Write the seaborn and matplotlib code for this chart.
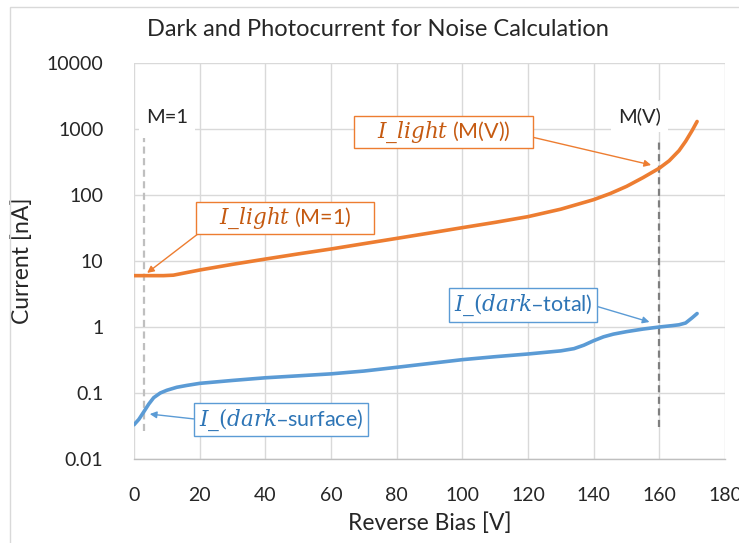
import numpy as np
import pandas as pd
import matplotlib
matplotlib.use("Agg")
import matplotlib.pyplot as plt
from matplotlib.patches import Rectangle
from matplotlib.path import Path
import seaborn as sns

# Photocurrent (I_light) vs reverse bias
bias_light = [0, 3, 6, 9, 12, 20, 30, 40, 50, 60, 70, 80, 90, 100, 110, 120,
              130, 140, 145, 150, 155, 160, 163, 166, 168, 170, 171.5]
i_light = [6.0, 6.0, 6.0, 6.0, 6.1, 7.3, 8.9, 10.7, 12.8, 15.2, 18.3, 22.0,
           26.5, 32.0, 38.5, 47.0, 61.0, 85.0, 105.0, 135.0, 183.0, 255.0,
           330.0, 470.0, 650.0, 950.0, 1300.0]

# Dark current vs reverse bias
bias_dark = [0, 1.5, 3, 4.5, 6, 8, 10, 13, 16, 20, 30, 40, 50, 60, 70, 80, 90,
             100, 110, 120, 130, 134, 137, 140, 143, 146, 150, 155, 160, 164,
             166, 168, 170, 171.5]
i_dark = [0.033, 0.040, 0.052, 0.068, 0.085, 0.100, 0.110, 0.122, 0.130, 0.140,
          0.155, 0.170, 0.182, 0.195, 0.215, 0.245, 0.280, 0.320, 0.355, 0.390,
          0.435, 0.470, 0.530, 0.620, 0.710, 0.780, 0.850, 0.930, 1.000, 1.050,
          1.080, 1.150, 1.380, 1.600]

x_ticks = [0, 20, 40, 60, 80, 100, 120, 140, 160, 180]
y_ticks = [0.01, 0.1, 1, 10, 100, 1000, 10000]
y_ticklabels = ["0.01", "0.1", "1", "10", "100", "1000", "10000"]

# reference bias points: unity gain and operating gain
m1_bias = 3
mv_bias = 160

ORANGE = "#ED7D31"
ORANGE_TXT = "#C55A11"
BLUE = "#5B9BD5"
BLUE_TXT = "#2E75B6"
GRID = "#D9D9D9"
TXT = "#262626"

sns.set_theme(style="white")
plt.rcParams["font.family"] = ["Lato", "DejaVu Sans"]
plt.rcParams["mathtext.fontset"] = "dejavuserif"

df_light = pd.DataFrame({"bias": bias_light, "current": i_light})
df_dark = pd.DataFrame({"bias": bias_dark, "current": i_dark})

fig = plt.figure(figsize=(7.39, 5.43), dpi=100)
ax = fig.add_axes([134 / 739, 1 - 459 / 543, (725 - 134) / 739, (459 - 63) / 543])

# chart frame
fig.patches.append(Rectangle((10 / 739, -0.1), 1.2, 1 - 7 / 543 + 0.1,
                             transform=fig.transFigure, fill=False,
                             edgecolor="#D9D9D9", linewidth=1.0))

sns.lineplot(data=df_light, x="bias", y="current", ax=ax, color=ORANGE,
             linewidth=2.6, zorder=4)
sns.lineplot(data=df_dark, x="bias", y="current", ax=ax, color=BLUE,
             linewidth=2.6, zorder=4)

ax.set_yscale("log")
ax.set_xlim(0, 180)
ax.set_ylim(0.01, 10000)
ax.set_xticks(x_ticks)
ax.set_xticklabels([str(t) for t in x_ticks])
ax.set_yticks(y_ticks)
ax.set_yticklabels(y_ticklabels)
ax.minorticks_off()
ax.tick_params(axis="both", length=0, labelsize=14, colors=TXT)
ax.tick_params(axis="y", pad=22)
ax.tick_params(axis="x", pad=20)
ax.grid(True, color=GRID, linewidth=1.0)
ax.set_axisbelow(True)
for side in ["left", "right", "top"]:
    ax.spines[side].set_visible(False)
ax.spines["bottom"].set_color("#BFBFBF")
ax.spines["bottom"].set_linewidth(1.0)

ax.set_xlabel("Reverse Bias [V]", fontsize=16.5, color=TXT, labelpad=6)
ax.set_ylabel("Current [nA]", fontsize=16.5, color=TXT, labelpad=10)
fig.text(378 / 739, 1 - 30 / 543, "Dark and Photocurrent for Noise Calculation",
         ha="center", va="center", fontsize=17, color=TXT)

# gain reference markers
ax.plot([m1_bias, m1_bias], [0.027, 730], color="#BFBFBF", linewidth=1.6,
        linestyle=(0, (3.2, 2.0)), zorder=3)
ax.plot([mv_bias, mv_bias], [0.031, 680], color="#7F7F7F", linewidth=1.6,
        linestyle=(0, (3.2, 2.0)), zorder=3)
ax.text(10, 1500, "M=1", ha="center", va="center", fontsize=14.5, color=TXT,
        zorder=5, bbox=dict(boxstyle="square,pad=0.35", fc="white", ec="none"))
ax.text(154, 1550, "M(V)", ha="center", va="center", fontsize=14.5, color=TXT,
        zorder=5, bbox=dict(boxstyle="square,pad=0.35", fc="white", ec="none"))


def padded_box(pad_x, pad_y):
    """Rectangular box style with separate horizontal / vertical padding."""
    def box(x0, y0, width, height, mutation_size):
        px = pad_x * mutation_size
        py = pad_y * mutation_size
        xa, ya = x0 - px, y0 - py
        xb, yb = x0 + width + px, y0 + height + py
        return Path([(xa, ya), (xb, ya), (xb, yb), (xa, yb), (xa, ya)],
                    closed=True)
    return box


# callouts
def callout(text, xy, xytext, color, edge, relpos, pad_x):
    ax.annotate(text, xy=xy, xytext=xytext, textcoords="data", ha="center",
                va="center", fontsize=15.5, color=color, zorder=6,
                bbox=dict(boxstyle=padded_box(pad_x, 0.16), fc="white",
                          ec=edge, lw=1.0),
                arrowprops=dict(arrowstyle="-|>", color=edge, lw=1.0,
                                mutation_scale=10, relpos=relpos,
                                shrinkA=0, shrinkB=0))

callout(r"$I\_light$ (M(V))", (157.5, 285), (94.3, 900), ORANGE_TXT, ORANGE, (1, 0.5), 1.05)
callout(r"$I\_light$ (M=1)", (4.0, 6.6), (46, 45), ORANGE_TXT, ORANGE, (0, 0.5), 1.05)
callout(r"$I\_(dark$–total)", (157.0, 1.19), (118.5, 2.15), BLUE_TXT, BLUE, (1, 0.5), 0.22)
callout(r"$I\_(dark$–surface)", (4.8, 0.048), (44.8, 0.0397), BLUE_TXT, BLUE, (0, 0.5), 0.22)

fig.savefig("out.png", dpi=100, facecolor="white")
